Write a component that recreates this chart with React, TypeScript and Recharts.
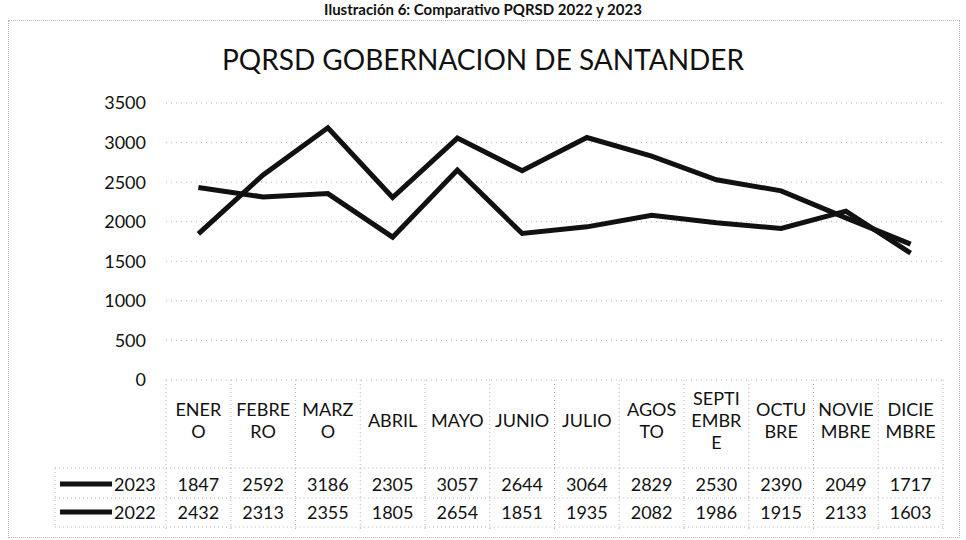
import { CartesianGrid, Line, LineChart, XAxis, YAxis } from 'recharts';

const monthLines = [
  ['ENER', 'O'], ['FEBRE', 'RO'], ['MARZ', 'O'], ['ABRIL'], ['MAYO'], ['JUNIO'],
  ['JULIO'], ['AGOS', 'TO'], ['SEPTI', 'EMBR', 'E'], ['OCTU', 'BRE'], ['NOVIE', 'MBRE'], ['DICIE', 'MBRE'],
];
const values2023 = [1847, 2592, 3186, 2305, 3057, 2644, 3064, 2829, 2530, 2390, 2049, 1717];
const values2022 = [2432, 2313, 2355, 1805, 2654, 1851, 1935, 2082, 1986, 1915, 2133, 1603];
const yTicks = [0, 500, 1000, 1500, 2000, 2500, 3000, 3500];

const data = monthLines.map((lines, i) => ({
  month: lines.join(''),
  y2023: values2023[i],
  y2022: values2022[i],
}));

const W = 966;
const H = 540;
const PLOT_LEFT = 166;
const PLOT_RIGHT = 943;
const COL_W = (PLOT_RIGHT - PLOT_LEFT) / monthLines.length;
const font = 'Lato, "Open Sans", sans-serif';
const ink = '#111';
const dotted = '#b5b5b5';

function TableTick(props: any) {
  const { x, y, payload, index } = props;
  const lines = monthLines[index] ?? [payload.value];
  const left = x - COL_W / 2;
  const lh = 22;
  const headCenter = y + 40;
  const row1 = y + 104;
  const row2 = y + 132;
  return (
    <g fontFamily={font} fontSize={18} fill={ink}>
      <line x1={left} x2={left} y1={y} y2={y + 150} stroke={dotted} strokeDasharray="1 3"/>
      {index === monthLines.length - 1 && (
        <line x1={left + COL_W} x2={left + COL_W} y1={y} y2={y + 150} stroke={dotted} strokeDasharray="1 3"/>
      )}
      {index === 0 && (
        <g>
          <line x1={55} x2={left} y1={y + 88} y2={y + 88} stroke={dotted} strokeDasharray="1 3"/>
          <line x1={55} x2={left} y1={y + 118} y2={y + 118} stroke={dotted} strokeDasharray="1 3"/>
          <line x1={55} x2={left} y1={y + 147} y2={y + 147} stroke={dotted} strokeDasharray="1 3"/>
          <line x1={55} x2={55} y1={y + 88} y2={y + 147} stroke={dotted} strokeDasharray="1 3"/>
          <line x1={60} x2={112} y1={row1} y2={row1} stroke={ink} strokeWidth={5}/>
          <text x={114} y={row1} dominantBaseline="central">2023</text>
          <line x1={60} x2={112} y1={row2} y2={row2} stroke={ink} strokeWidth={5}/>
          <text x={114} y={row2} dominantBaseline="central">2022</text>
        </g>
      )}
      <line x1={left} x2={left + COL_W} y1={y + 88} y2={y + 88} stroke={dotted} strokeDasharray="1 3"/>
      <line x1={left} x2={left + COL_W} y1={y + 118} y2={y + 118} stroke={dotted} strokeDasharray="1 3"/>
      <line x1={left} x2={left + COL_W} y1={y + 147} y2={y + 147} stroke={dotted} strokeDasharray="1 3"/>
      {lines.map((t: string, i: number) => (
        <text key={t + i} x={x} y={headCenter + (i - (lines.length - 1) / 2) * lh} textAnchor="middle" dominantBaseline="central">{t}</text>
      ))}
      <text x={x} y={row1} textAnchor="middle" dominantBaseline="central">{values2023[index]}</text>
      <text x={x} y={row2} textAnchor="middle" dominantBaseline="central">{values2022[index]}</text>
    </g>
  );
}

export default function App() {
  return (
    <div style={{ position: 'absolute', left: 0, top: 0, width: W, height: H, background: '#fff', overflow: 'hidden' }}>
      <div style={{ position: 'absolute', left: 0, right: 0, top: 1, textAlign: 'center', fontFamily: font, fontWeight: 700, fontSize: 15, lineHeight: '17px', color: ink }}>
        Ilustración 6: Comparativo PQRSD 2022 y 2023
      </div>
      <div style={{ position: 'absolute', left: 8, top: 20, width: 950, height: 516, border: `1px dotted ${dotted}` }}/>
      <div style={{ position: 'absolute', left: 0, right: 0, top: 42, textAlign: 'center', fontFamily: font, fontSize: 28, color: ink }}>
        PQRSD GOBERNACION DE SANTANDER
      </div>
      <div style={{ position: 'absolute', left: 0, top: 0 }}>
        <LineChart width={W} height={H} data={data} margin={{ top: 103, right: W - PLOT_RIGHT, bottom: 0, left: PLOT_LEFT - 80 }}>
          <CartesianGrid vertical={false} stroke={dotted} strokeDasharray="1 4"/>
          <XAxis dataKey="month" scale="band" height={160} axisLine={false} tickLine={false} tickSize={0} tickMargin={0} interval={0} tick={<TableTick/>}/>
          <YAxis domain={[0, 3500]} ticks={yTicks} width={80} axisLine={false} tickLine={false} tickSize={0} tickMargin={20}
            tick={{ fontFamily: font, fontSize: 18, fill: ink }}/>
          <Line type="linear" dataKey="y2023" stroke={ink} strokeWidth={5} dot={false} isAnimationActive={false}/>
          <Line type="linear" dataKey="y2022" stroke={ink} strokeWidth={5} dot={false} isAnimationActive={false}/>
        </LineChart>
      </div>
    </div>
  );
}
